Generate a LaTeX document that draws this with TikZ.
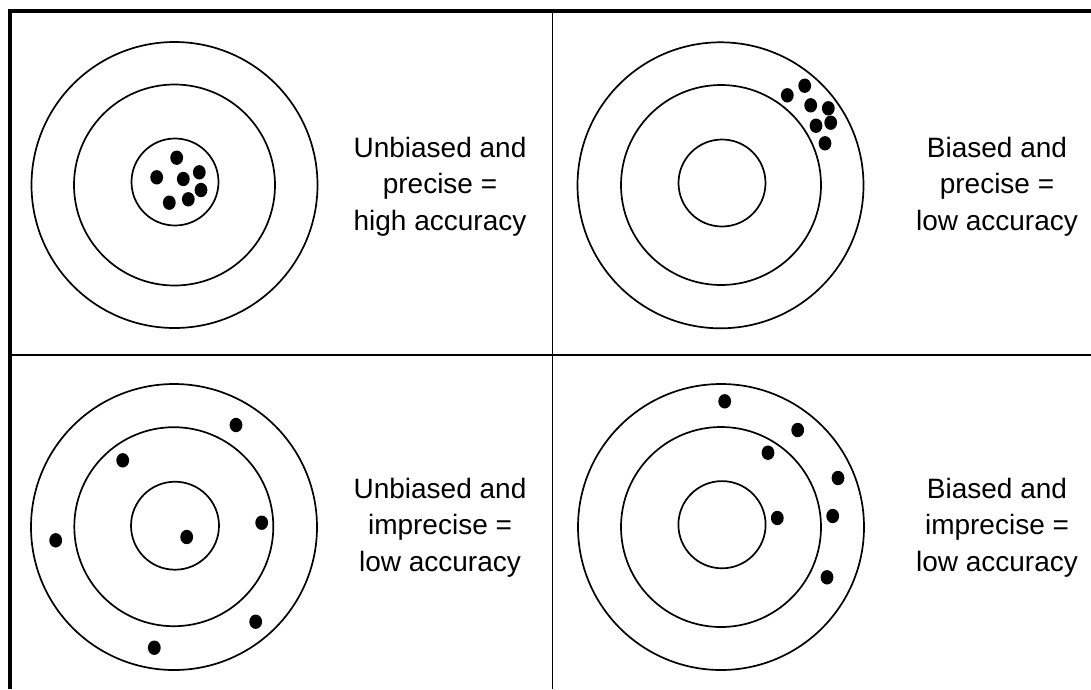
\documentclass[tikz,border=0pt]{standalone}
\usepackage{fontspec}
\setmainfont{Liberation Sans}
\begin{document}
\begin{tikzpicture}[x=1pt,y=-1pt,
  frameline/.style={line width=3.4pt},
  sideline/.style={line width=4pt},
  divider/.style={line width=1.8pt},
  ring/.style={line width=1.7pt},
  shot/.style={fill=black},
  lbl/.style={font=\fontsize{28}{35}\selectfont, anchor=base, inner sep=0pt}]
  \useasboundingbox (0,0) rectangle (1091,689);

  % outer frame (top and left) and the two dividers
  \coordinate (fl) at (10.3,689);
  \coordinate (ftl) at (10.3,9.2);
  \coordinate (ft) at (8.3,11);
  \coordinate (ftr) at (1091,11);
  \draw[sideline] (fl) -- (ftl);
  \draw[frameline] (ft) -- (ftr);
  \coordinate (vt) at (552.5,11);
  \coordinate (vb) at (552.5,689);
  \coordinate (hl) at (10.3,355);
  \coordinate (hr) at (1091,355);
  \draw[divider] (vt) -- (vb);
  \draw[divider] (hl) -- (hr);

  % target rings
  \draw[ring] (174.5,185) circle[radius=143];
  \draw[ring] (174.5,185) circle[radius=100.5];
  \draw[ring] (175,182) circle[radius=43.5];

  \draw[ring] (720.5,185.3) circle[radius=143];
  \draw[ring] (721,185) circle[radius=100];
  \draw[ring] (722,183) circle[radius=43.5];

  \draw[ring] (174,527) circle[radius=143];
  \draw[ring] (173.8,526.7) circle[radius=99.5];
  \draw[ring] (175,525.7) circle[radius=44];

  \draw[ring] (721,527) circle[radius=143];
  \draw[ring] (721,527) circle[radius=100];
  \draw[ring] (722,524.7) circle[radius=43.6];

  % shots: unbiased, precise
  \foreach \p in {(176.7,157.7),(156.7,177.3),(183.3,179),(199.3,172.3),
                  (201,190),(188.3,199.3),(169.3,202.7)}
    \fill[shot] \p ellipse[x radius=6.4, y radius=7.2];
  % shots: biased, precise
  \foreach \p in {(787.3,95.3),(804.7,85.7),(810.7,105.3),(828.3,108.3),
                  (830.7,122.7),(816,125.7),(825,143.3)}
    \fill[shot] \p ellipse[x radius=6.4, y radius=7.2];
  % shots: unbiased, imprecise
  \foreach \p in {(236,425),(122.7,460.3),(261.7,522.7),(186.7,537),
                  (55.7,540.3),(255.7,621.7),(154.3,647.7)}
    \fill[shot] \p ellipse[x radius=6.4, y radius=7.2];
  % shots: biased, imprecise
  \foreach \p in {(724.7,401.3),(797.7,430),(768,452.7),(838,478),
                  (777.3,518),(832.7,516),(827,577.3)}
    \fill[shot] \p ellipse[x radius=6.4, y radius=7.2];

  % captions
  \node[lbl] (a1) at (440,157) {Unbiased and};
  \node[lbl] (a2) at (440,193.5) {precise =};
  \node[lbl] (a3) at (440,230) {high accuracy};

  \node[lbl] (b1) at (997,157) {Biased and};
  \node[lbl] (b2) at (997,193.5) {precise =};
  \node[lbl] (b3) at (997,230) {low accuracy};

  \node[lbl] (c1) at (440,498) {Unbiased and};
  \node[lbl] (c2) at (440,534.5) {imprecise =};
  \node[lbl] (c3) at (440,571) {low accuracy};

  \node[lbl] (d1) at (997,498) {Biased and};
  \node[lbl] (d2) at (997,534.5) {imprecise =};
  \node[lbl] (d3) at (997,571) {low accuracy};
\end{tikzpicture}
\end{document}
